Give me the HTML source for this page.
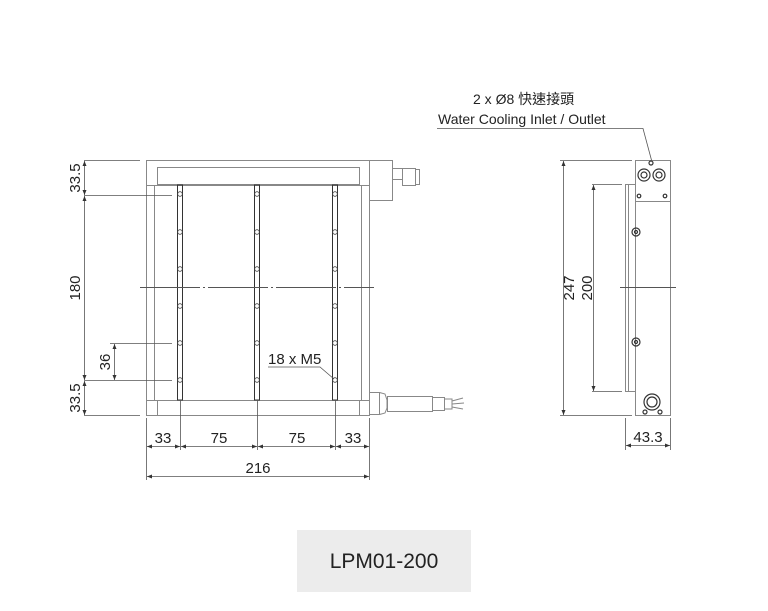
<!DOCTYPE html>
<html><head><meta charset="utf-8"><style>
html,body{margin:0;padding:0;background:#fff;}
svg{display:block;}
text{font-family:"Liberation Sans","Noto Sans CJK TC",sans-serif;fill:#222;}
</style></head><body>
<svg width="768" height="611" viewBox="0 0 768 611" xmlns="http://www.w3.org/2000/svg">
<defs>
<marker id="a" viewBox="0 0 10 10" refX="10" refY="5" markerWidth="7" markerHeight="5" orient="auto-start-reverse" markerUnits="userSpaceOnUse"><path d="M0,1 L10,5 L0,9z" fill="#333"/></marker>
</defs>
<g fill="none" stroke="#888" stroke-width="1">
<rect x="146.5" y="160.5" width="223" height="255"/>
<rect x="157.5" y="167.5" width="202" height="17"/>
<line x1="146" y1="185.5" x2="370" y2="185.5"/>
<line x1="146" y1="400.5" x2="370" y2="400.5"/>
<rect x="157.5" y="400.5" width="202" height="15"/>
<line x1="154.5" y1="185" x2="154.5" y2="400"/>
<line x1="361.5" y1="185" x2="361.5" y2="400"/>
<rect x="369.5" y="160.5" width="23" height="40"/>
<rect x="392.5" y="168.5" width="10" height="11"/>
<rect x="402.5" y="168.5" width="13" height="17"/>
<rect x="415.5" y="169.5" width="4" height="15"/>
<rect x="369.5" y="392.5" width="10" height="22"/>
<path d="M379.5 392.5 L385 394 L387 400 L387 408 L385 413 L379.5 414.5"/>
<rect x="387.5" y="396.5" width="45" height="15"/>
<rect x="432.5" y="397.5" width="12" height="13"/>
<path d="M445 399 L452 399 L452 409 L445 409 M452 401 L463 398 M452 404 L464 403 M452 407 L463 409"/>
</g>
<g stroke="#333" stroke-width="1" fill="none">
<rect x="177.5" y="185" width="5" height="215"/>
<rect x="254.5" y="185" width="5" height="215"/>
<rect x="332.5" y="185" width="5" height="215"/>
</g>
<g fill="#fff" stroke="#444" stroke-width="0.8">
<circle cx="180" cy="194" r="2.3"/><circle cx="180" cy="232" r="2.3"/><circle cx="180" cy="269" r="2.3"/><circle cx="180" cy="306" r="2.3"/><circle cx="180" cy="343" r="2.3"/><circle cx="180" cy="380" r="2.3"/>
<circle cx="257" cy="194" r="2.3"/><circle cx="257" cy="232" r="2.3"/><circle cx="257" cy="269" r="2.3"/><circle cx="257" cy="306" r="2.3"/><circle cx="257" cy="343" r="2.3"/><circle cx="257" cy="380" r="2.3"/>
<circle cx="335" cy="194" r="2.3"/><circle cx="335" cy="232" r="2.3"/><circle cx="335" cy="269" r="2.3"/><circle cx="335" cy="306" r="2.3"/><circle cx="335" cy="343" r="2.3"/><circle cx="335" cy="380" r="2.3"/>
</g>
<line x1="140" y1="287.5" x2="374" y2="287.5" stroke="#555" stroke-dasharray="60,3,2,3"/>
<g stroke="#555" stroke-width="0.8" fill="none">
<line x1="84" y1="160.5" x2="140" y2="160.5"/>
<line x1="84" y1="195.5" x2="172" y2="195.5"/>
<line x1="84" y1="380.5" x2="172" y2="380.5"/>
<line x1="84" y1="415.5" x2="140" y2="415.5"/>
<line x1="110" y1="343.5" x2="172" y2="343.5"/>
<line x1="84.5" y1="161" x2="84.5" y2="195" marker-start="url(#a)" marker-end="url(#a)"/>
<line x1="84.5" y1="196" x2="84.5" y2="380" marker-start="url(#a)" marker-end="url(#a)"/>
<line x1="84.5" y1="381" x2="84.5" y2="415" marker-start="url(#a)" marker-end="url(#a)"/>
<line x1="114.5" y1="344" x2="114.5" y2="380" marker-start="url(#a)" marker-end="url(#a)"/>
<line x1="146.5" y1="418" x2="146.5" y2="480"/>
<line x1="369.5" y1="418" x2="369.5" y2="480"/>
<line x1="180.5" y1="400" x2="180.5" y2="450"/>
<line x1="257.5" y1="400" x2="257.5" y2="450"/>
<line x1="335.5" y1="400" x2="335.5" y2="450"/>
<line x1="147" y1="446.5" x2="180" y2="446.5" marker-start="url(#a)" marker-end="url(#a)"/>
<line x1="181" y1="446.5" x2="257" y2="446.5" marker-start="url(#a)" marker-end="url(#a)"/>
<line x1="258" y1="446.5" x2="335" y2="446.5" marker-start="url(#a)" marker-end="url(#a)"/>
<line x1="336" y1="446.5" x2="369" y2="446.5" marker-start="url(#a)" marker-end="url(#a)"/>
<line x1="147" y1="476.5" x2="369" y2="476.5" marker-start="url(#a)" marker-end="url(#a)"/>
<path d="M268 367 L320 367 L334 379"/>
</g>
<g font-size="15">
<text transform="translate(80,178) rotate(-90)" text-anchor="middle">33.5</text>
<text transform="translate(80,288) rotate(-90)" text-anchor="middle">180</text>
<text transform="translate(110,362) rotate(-90)" text-anchor="middle">36</text>
<text transform="translate(80,398) rotate(-90)" text-anchor="middle">33.5</text>
<text x="163" y="443" text-anchor="middle">33</text>
<text x="219" y="443" text-anchor="middle">75</text>
<text x="297" y="443" text-anchor="middle">75</text>
<text x="353" y="443" text-anchor="middle">33</text>
<text x="258" y="473" text-anchor="middle">216</text>
<text x="268" y="364">18 x M5</text>
</g>
<g fill="none" stroke="#888" stroke-width="1">
<rect x="635.5" y="160.5" width="35" height="255"/>
<line x1="635" y1="201.5" x2="671" y2="201.5"/>
<path d="M635 184.5 L625.5 184.5 L625.5 391.5 L635 391.5"/>
<line x1="628.5" y1="185" x2="628.5" y2="391"/>
</g>
<g fill="none" stroke="#333" stroke-width="1.2">
<circle cx="644" cy="175" r="6"/><circle cx="644" cy="175" r="3"/>
<circle cx="659" cy="175" r="6"/><circle cx="659" cy="175" r="3"/>
<circle cx="651" cy="163" r="2"/>
<circle cx="639" cy="196" r="1.8"/><circle cx="665" cy="196" r="1.8"/>
<circle cx="636" cy="232" r="4"/><circle cx="636" cy="232" r="1.5"/>
<circle cx="636" cy="342" r="4"/><circle cx="636" cy="342" r="1.5"/>
<circle cx="652" cy="402" r="8"/><circle cx="652" cy="402" r="5"/>
<circle cx="645" cy="412" r="2"/><circle cx="660" cy="412" r="2"/>
</g>
<line x1="620" y1="287.5" x2="676" y2="287.5" stroke="#555"/>
<g stroke="#555" stroke-width="0.8" fill="none">
<line x1="560" y1="160.5" x2="632" y2="160.5"/>
<line x1="560" y1="415.5" x2="632" y2="415.5"/>
<line x1="563.5" y1="161" x2="563.5" y2="415" marker-start="url(#a)" marker-end="url(#a)"/>
<line x1="592" y1="184.5" x2="622" y2="184.5"/>
<line x1="592" y1="391.5" x2="622" y2="391.5"/>
<line x1="593.5" y1="185" x2="593.5" y2="391" marker-start="url(#a)" marker-end="url(#a)"/>
<line x1="625.5" y1="418" x2="625.5" y2="450"/>
<line x1="670.5" y1="418" x2="670.5" y2="450"/>
<line x1="626" y1="445.5" x2="670" y2="445.5" marker-start="url(#a)" marker-end="url(#a)"/>
<path d="M437 128.5 L643 128.5 L652 162"/>
</g>
<g font-size="15">
<text transform="translate(574,288) rotate(-90)" text-anchor="middle">247</text>
<text transform="translate(592,288) rotate(-90)" text-anchor="middle">200</text>
<text x="648" y="442" text-anchor="middle">43.3</text>
</g>
<g font-size="14">
<text x="473" y="104">2 x Ø8 快速接頭</text>
<text x="438" y="124">Water Cooling Inlet / Outlet</text>
</g>
<rect x="297" y="530" width="174" height="62" fill="#ececec"/>
<text x="384" y="568" font-size="21" text-anchor="middle" fill="#333">LPM01-200</text>
</svg>
</body></html>
